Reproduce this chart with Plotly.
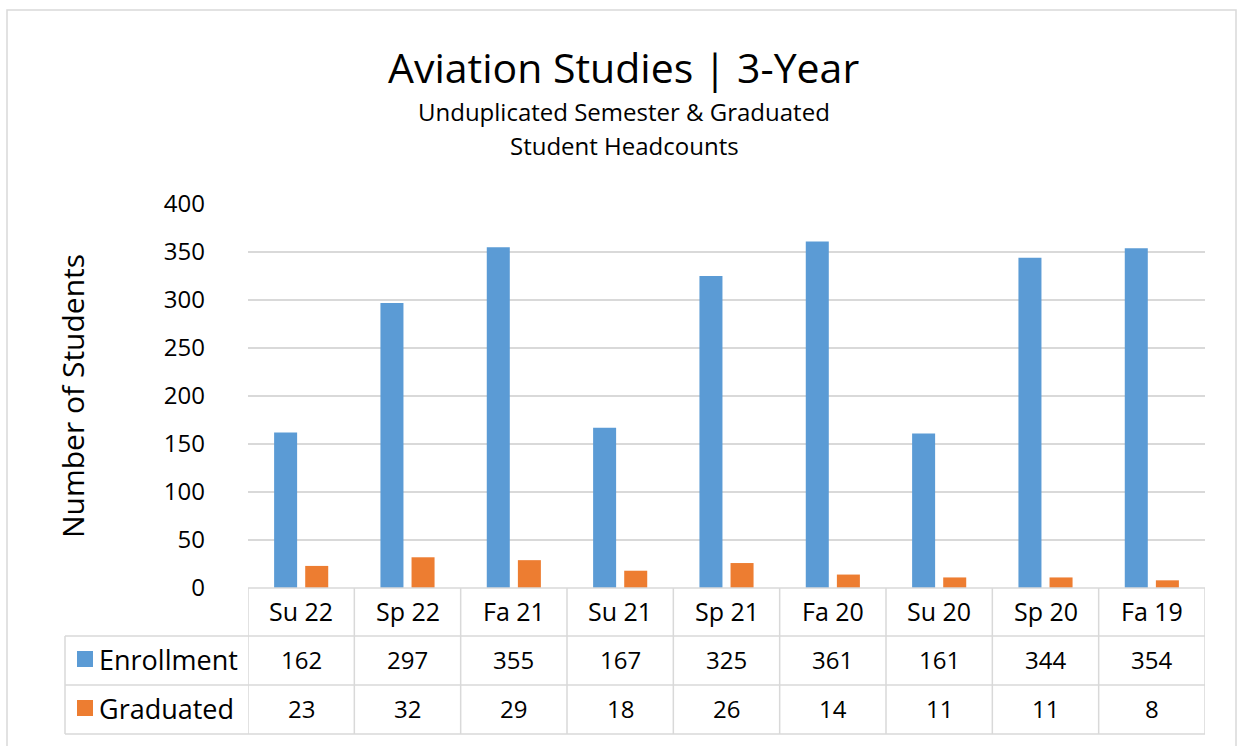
import plotly.graph_objects as go

categories = ["Su 22", "Sp 22", "Fa 21", "Su 21", "Sp 21", "Fa 20", "Su 20", "Sp 20", "Fa 19"]
enrollment = [162, 297, 355, 167, 325, 361, 161, 344, 354]
graduated = [23, 32, 29, 18, 26, 14, 11, 11, 8]
series_names = ["Enrollment", "Graduated"]
series_colors = ["#5B9BD5", "#ED7D31"]
y_ticks = [0, 50, 100, 150, 200, 250, 300, 350, 400]

W, H = 1241, 746
L, R, T, B = 248, 1205, 204, 588
FONT = "Open Sans"
GRID = "#D9D9D9"


def px_x(p):
    return (p - L) / (R - L)


def px_y(p):
    return (B - p) / (B - T)


fig = go.Figure()
for name, vals, col in zip(series_names, [enrollment, graduated], series_colors):
    fig.add_trace(go.Bar(x=categories, y=vals, name=name, marker_color=col,
                         marker_line_width=0, showlegend=False))

shapes = []
# outer border
shapes.append(dict(type="rect", xref="paper", yref="paper",
                   x0=px_x(7), x1=px_x(1236), y0=px_y(752), y1=px_y(10),
                   line=dict(color="#D9D9D9", width=1.5), layer="below"))
# table horizontal lines
row_tops = [588, 636, 685, 734]
for i, yy in enumerate(row_tops):
    x0 = L if i == 0 else 65
    shapes.append(dict(type="line", xref="paper", yref="paper",
                       x0=px_x(x0), x1=1, y0=px_y(yy), y1=px_y(yy),
                       line=dict(color=GRID, width=1.5)))
# table vertical lines at category boundaries
for i in range(len(categories) + 1):
    shapes.append(dict(type="line", xref="x", yref="paper",
                       x0=i - 0.5, x1=i - 0.5, y0=px_y(588), y1=px_y(734),
                       line=dict(color=GRID, width=1.5)))
shapes.append(dict(type="line", xref="paper", yref="paper",
                   x0=px_x(65), x1=px_x(65), y0=px_y(636), y1=px_y(734),
                   line=dict(color=GRID, width=1.5)))

annotations = []
row_centers = [611, 659, 708]
for c in categories:
    annotations.append(dict(x=c, xref="x", y=px_y(row_centers[0]), yref="paper",
                            text=c, showarrow=False, font=dict(size=25, color="#000000", family=FONT),
                            xanchor="center", yanchor="middle"))
for r, vals in enumerate([enrollment, graduated]):
    for c, v in zip(categories, vals):
        annotations.append(dict(x=c, xref="x", y=px_y(row_centers[r + 1]), yref="paper",
                                text=str(v), showarrow=False,
                                font=dict(size=24, color="#000000", family=FONT),
                                xanchor="center", yanchor="middle"))
    # legend key
    yc = row_centers[r + 1]
    shapes.append(dict(type="rect", xref="paper", yref="paper",
                       x0=px_x(77), x1=px_x(93), y0=px_y(yc + 8), y1=px_y(yc - 8),
                       fillcolor=series_colors[r], line=dict(width=0)))
    annotations.append(dict(x=px_x(97), xref="paper", y=px_y(yc), yref="paper",
                            text=series_names[r], showarrow=False,
                            font=dict(size=27, color="#000000", family=FONT),
                            xanchor="left", yanchor="middle"))

# titles
annotations.append(dict(x=px_x(623), xref="paper", y=px_y(67), yref="paper",
                        text="Aviation Studies | 3-Year", showarrow=False,
                        font=dict(size=41, color="#000000", family=FONT),
                        xanchor="center", yanchor="middle"))
annotations.append(dict(x=px_x(624), xref="paper", y=px_y(111), yref="paper",
                        text="Unduplicated Semester & Graduated", showarrow=False,
                        font=dict(size=24, color="#000000", family=FONT),
                        xanchor="center", yanchor="middle"))
annotations.append(dict(x=px_x(624), xref="paper", y=px_y(145), yref="paper",
                        text="Student Headcounts", showarrow=False,
                        font=dict(size=24, color="#000000", family=FONT),
                        xanchor="center", yanchor="middle"))
annotations.append(dict(x=px_x(72), xref="paper", y=px_y(396), yref="paper",
                        text="Number of Students", showarrow=False, textangle=-90,
                        font=dict(size=30, color="#000000", family=FONT),
                        xanchor="center", yanchor="middle"))

fig.update_layout(
    width=W, height=H, autosize=False,
    margin=dict(l=L, r=W - R, t=T, b=H - B, pad=0),
    paper_bgcolor="#FFFFFF", plot_bgcolor="#FFFFFF",
    barmode="group", bargap=0.415, bargroupgap=0.26,
    font=dict(family=FONT, color="#000000"),
    shapes=shapes, annotations=annotations,
    showlegend=False,
)
fig.update_xaxes(showticklabels=False, showgrid=False, zeroline=False,
                 showline=False, ticks="", range=[-0.5, len(categories) - 0.5])
fig.update_yaxes(range=[0, 400], tickvals=y_ticks, showgrid=True, gridcolor=GRID,
                 gridwidth=1.5, zeroline=False, showline=False, ticks="",
                 tickfont=dict(size=24, color="#000000", family=FONT),
                 ticklabelstandoff=42)

fig.write_html("out.html", config={"displayModeBar": False},
               post_script="document.body.style.margin='0px';")
